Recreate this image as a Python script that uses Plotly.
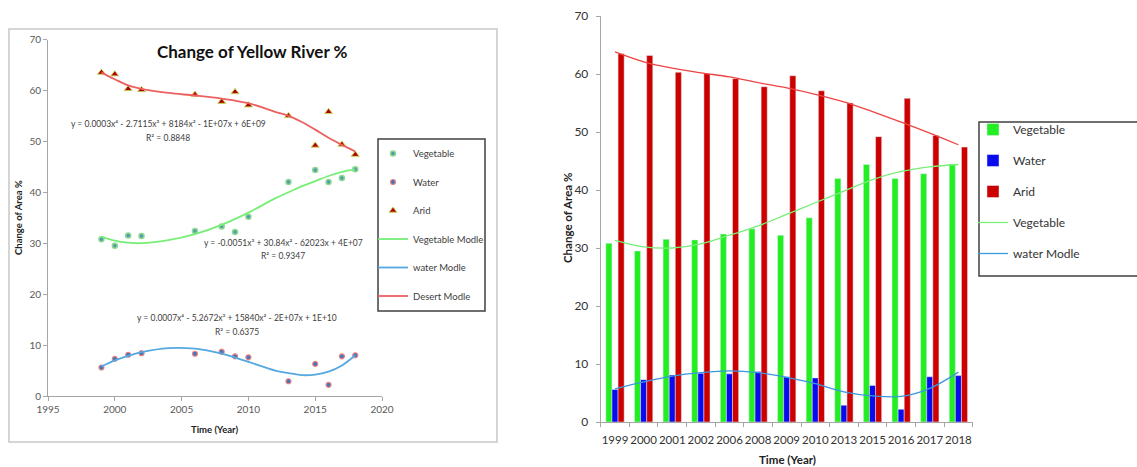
import plotly.graph_objects as go

W, H = 1137, 467

years = [1999, 2000, 2001, 2002, 2006, 2008, 2009, 2010, 2013, 2015, 2016, 2017, 2018]
year_labels = [str(y) for y in years]
vegetable = [30.8, 29.5, 31.5, 31.4, 32.4, 33.3, 32.2, 35.2, 42.0, 44.4, 42.0, 42.8, 44.5]
water = [5.6, 7.3, 8.1, 8.4, 8.3, 8.7, 7.8, 7.6, 2.9, 6.3, 2.2, 7.8, 8.0]
arid = [63.5, 63.2, 60.3, 60.1, 59.2, 57.8, 59.7, 57.1, 55.0, 49.2, 55.8, 49.4, 47.4]

# trend lines (continuous year axis)
trend_x = [1999, 2000, 2001, 2002, 2004, 2006, 2008, 2010, 2012, 2013, 2014, 2015, 2016, 2017, 2018]
veg_trend = [31.3, 30.5, 30.1, 30.0, 30.6, 31.8, 33.6, 36.0, 38.8, 40.0, 41.2, 42.2, 43.2, 44.0, 44.5]
water_trend = [5.8, 7.0, 7.9, 8.6, 9.4, 9.3, 8.3, 6.7, 5.0, 4.5, 4.1, 4.2, 4.8, 6.0, 8.0]
desert_trend = [63.5, 62.2, 61.0, 60.3, 59.5, 59.0, 58.4, 57.5, 55.8, 55.0, 53.8, 52.3, 50.7, 49.3, 48.0]

# trend lines (category axis)
veg_trend_cat = [31.3, 30.2, 30.0, 30.7, 32.2, 33.8, 35.8, 37.8, 39.8, 41.8, 43.2, 44.0, 44.4]
water_trend_cat = [5.7, 6.9, 7.9, 8.5, 8.8, 8.5, 7.7, 6.6, 5.2, 4.5, 4.4, 5.8, 8.6]
arid_trend_cat = [63.8, 62.1, 61.0, 60.2, 59.5, 58.5, 57.6, 56.5, 55.2, 53.5, 51.7, 49.8, 47.8]

FONT = "Lato"

def px_x(p):
    return p / W

def px_y(p):
    return 1 - p / H

fig = go.Figure()

# ---------------- Left chart ----------------
fig.add_trace(go.Scatter(x=years, y=vegetable, mode="markers", name="Vegetable",
                         marker=dict(symbol="circle", size=5, color="#4f9bb0",
                                     line=dict(color="#8fd88f", width=1.5)),
                         xaxis="x", yaxis="y", legend="legend", legendgroup="a1"))
fig.add_trace(go.Scatter(x=years, y=water, mode="markers", name="Water",
                         marker=dict(symbol="circle", size=5, color="#3a78c0",
                                     line=dict(color="#f08080", width=1.2)),
                         xaxis="x", yaxis="y", legend="legend", legendgroup="a2"))
fig.add_trace(go.Scatter(x=years, y=arid, mode="markers", name="Arid",
                         marker=dict(symbol="triangle-up", size=7, color="#b00000",
                                     line=dict(color="#c8d860", width=1)),
                         xaxis="x", yaxis="y", legend="legend", legendgroup="a3"))
fig.add_trace(go.Scatter(x=trend_x, y=veg_trend, mode="lines", name="Vegetable Modle",
                         line=dict(color="#77ee77", width=1.8, shape="spline"),
                         xaxis="x", yaxis="y", legend="legend", legendgroup="a4"))
fig.add_trace(go.Scatter(x=trend_x, y=water_trend, mode="lines", name="water Modle",
                         line=dict(color="#55a8e0", width=1.8, shape="spline"),
                         xaxis="x", yaxis="y", legend="legend", legendgroup="a5"))
fig.add_trace(go.Scatter(x=trend_x, y=desert_trend, mode="lines", name="Desert Modle",
                         line=dict(color="#ec6060", width=1.8, shape="spline"),
                         xaxis="x", yaxis="y", legend="legend", legendgroup="a6"))

# ---------------- Right chart ----------------
fig.add_trace(go.Bar(x=year_labels, y=vegetable, name="Vegetable", marker_color="#22ee22",
                     xaxis="x2", yaxis="y2", legend="legend2", legendgroup="b1"))
fig.add_trace(go.Bar(x=year_labels, y=water, name="Water", marker_color="#0a0aee",
                     xaxis="x2", yaxis="y2", legend="legend2", legendgroup="b2"))
fig.add_trace(go.Bar(x=year_labels, y=arid, name="Arid", marker_color="#cc0000",
                     xaxis="x2", yaxis="y2", legend="legend2", legendgroup="b3"))
fig.add_trace(go.Scatter(x=year_labels, y=veg_trend_cat, mode="lines", name="Vegetable",
                         line=dict(color="#77ee77", width=1.3, shape="spline"),
                         xaxis="x2", yaxis="y2", legend="legend2", legendgroup="b4"))
fig.add_trace(go.Scatter(x=year_labels, y=water_trend_cat, mode="lines", name="water Modle",
                         line=dict(color="#3a98dd", width=1.3, shape="spline"),
                         xaxis="x2", yaxis="y2", legend="legend2", legendgroup="b5"))
fig.add_trace(go.Scatter(x=year_labels, y=arid_trend_cat, mode="lines", name="Desert Modle",
                         line=dict(color="#ee4444", width=1.3, shape="spline"),
                         xaxis="x2", yaxis="y2", showlegend=False))

axis_common = dict(showgrid=False, zeroline=False, showline=True, linecolor="#a6a6a6",
                   linewidth=1, ticks="outside", tickcolor="#a6a6a6", ticklen=4,
                   automargin=False)

fig.update_layout(
    width=W, height=H,
    margin=dict(l=0, r=0, t=0, b=0, pad=0, autoexpand=False),
    paper_bgcolor="white", plot_bgcolor="white",
    font=dict(family=FONT, color="#404040"),
    bargap=0.36, bargroupgap=0.0,
    xaxis=dict(domain=[px_x(48), px_x(382)], range=[1995, 2020], dtick=5,
               tickfont=dict(size=10, color="#595959"), anchor="y", **axis_common),
    yaxis=dict(domain=[px_y(396), px_y(39.5)], range=[0, 70], dtick=10,
               tickfont=dict(size=10, color="#595959"), anchor="x", **axis_common),
    xaxis2=dict(domain=[px_x(600.7), px_x(972.7)], type="category", tickson="boundaries",
                tickangle=0, tickfont=dict(size=11.5, color="#333333"), anchor="y2",
                ticklabelstandoff=7, **axis_common),
    yaxis2=dict(domain=[px_y(422), px_y(16)], range=[0, 70], dtick=10,
                tickfont=dict(size=12, color="#333333"), anchor="x2",
                ticklabelstandoff=5, **axis_common),
    legend=dict(x=px_x(373), y=px_y(139), xanchor="left", yanchor="top",
                bordercolor="rgba(0,0,0,0)", borderwidth=0, bgcolor="rgba(0,0,0,0)",
                font=dict(size=9.5, color="#404040"), tracegroupgap=9.5,
                itemwidth=30),
    legend2=dict(x=px_x(973), y=px_y(115), xanchor="left", yanchor="top",
                 bordercolor="rgba(0,0,0,0)", borderwidth=0, bgcolor="rgba(0,0,0,0)",
                 font=dict(size=12, color="#333333"), tracegroupgap=12,
                 itemwidth=30),
    shapes=[dict(type="rect", xref="paper", yref="paper",
                 x0=px_x(9), x1=px_x(497), y0=px_y(442), y1=px_y(29),
                 line=dict(color="#c8c8c8", width=1.5)),
            dict(type="rect", xref="paper", yref="paper",
                 x0=px_x(378), x1=px_x(485), y0=px_y(311), y1=px_y(139),
                 line=dict(color="#404040", width=1.5), fillcolor="white", layer="below"),
            dict(type="rect", xref="paper", yref="paper",
                 x0=px_x(979), x1=px_x(1150), y0=px_y(276), y1=px_y(122),
                 line=dict(color="#404040", width=1.5), fillcolor="white", layer="below")],
)

ann = []
def add_text(text, x, y, size, bold=False, color="#404040", angle=0):
    ann.append(dict(text=f"<b>{text}</b>" if bold else text, x=px_x(x), y=px_y(y),
                    xref="paper", yref="paper", showarrow=False, textangle=angle,
                    xanchor="center", yanchor="middle",
                    font=dict(size=size, color=color, family=FONT)))

add_text("Change of Yellow River %", 252, 52, 17, bold=True, color="#111111")
add_text("Change of Area %", 18, 218, 9.5, bold=True, color="#222222", angle=-90)
add_text("Time (Year)", 214, 429, 9.5, bold=True, color="#222222")
add_text("y = 0.0003x⁴ - 2.7115x³ + 8184x² - 1E+07x + 6E+09", 168, 124, 8.5)
add_text("R² = 0.8848", 168, 138, 8.5)
add_text("y = -0.0051x³ + 30.84x² - 62023x + 4E+07", 283, 243, 8.5)
add_text("R² = 0.9347", 283, 256, 8.5)
add_text("y = 0.0007x⁴ - 5.2672x³ + 15840x² - 2E+07x + 1E+10", 237, 318, 8.5)
add_text("R² = 0.6375", 237, 332, 8.5)
add_text("Change of Area %", 567, 218, 11.5, bold=True, color="#222222", angle=-90)
add_text("Time (Year)", 787, 459, 11.5, bold=True, color="#222222")
fig.update_layout(annotations=ann)

fig.write_html("out.html",
               config={"displayModeBar": False},
               post_script="document.body.style.margin='0px';document.body.style.overflow='hidden';")
